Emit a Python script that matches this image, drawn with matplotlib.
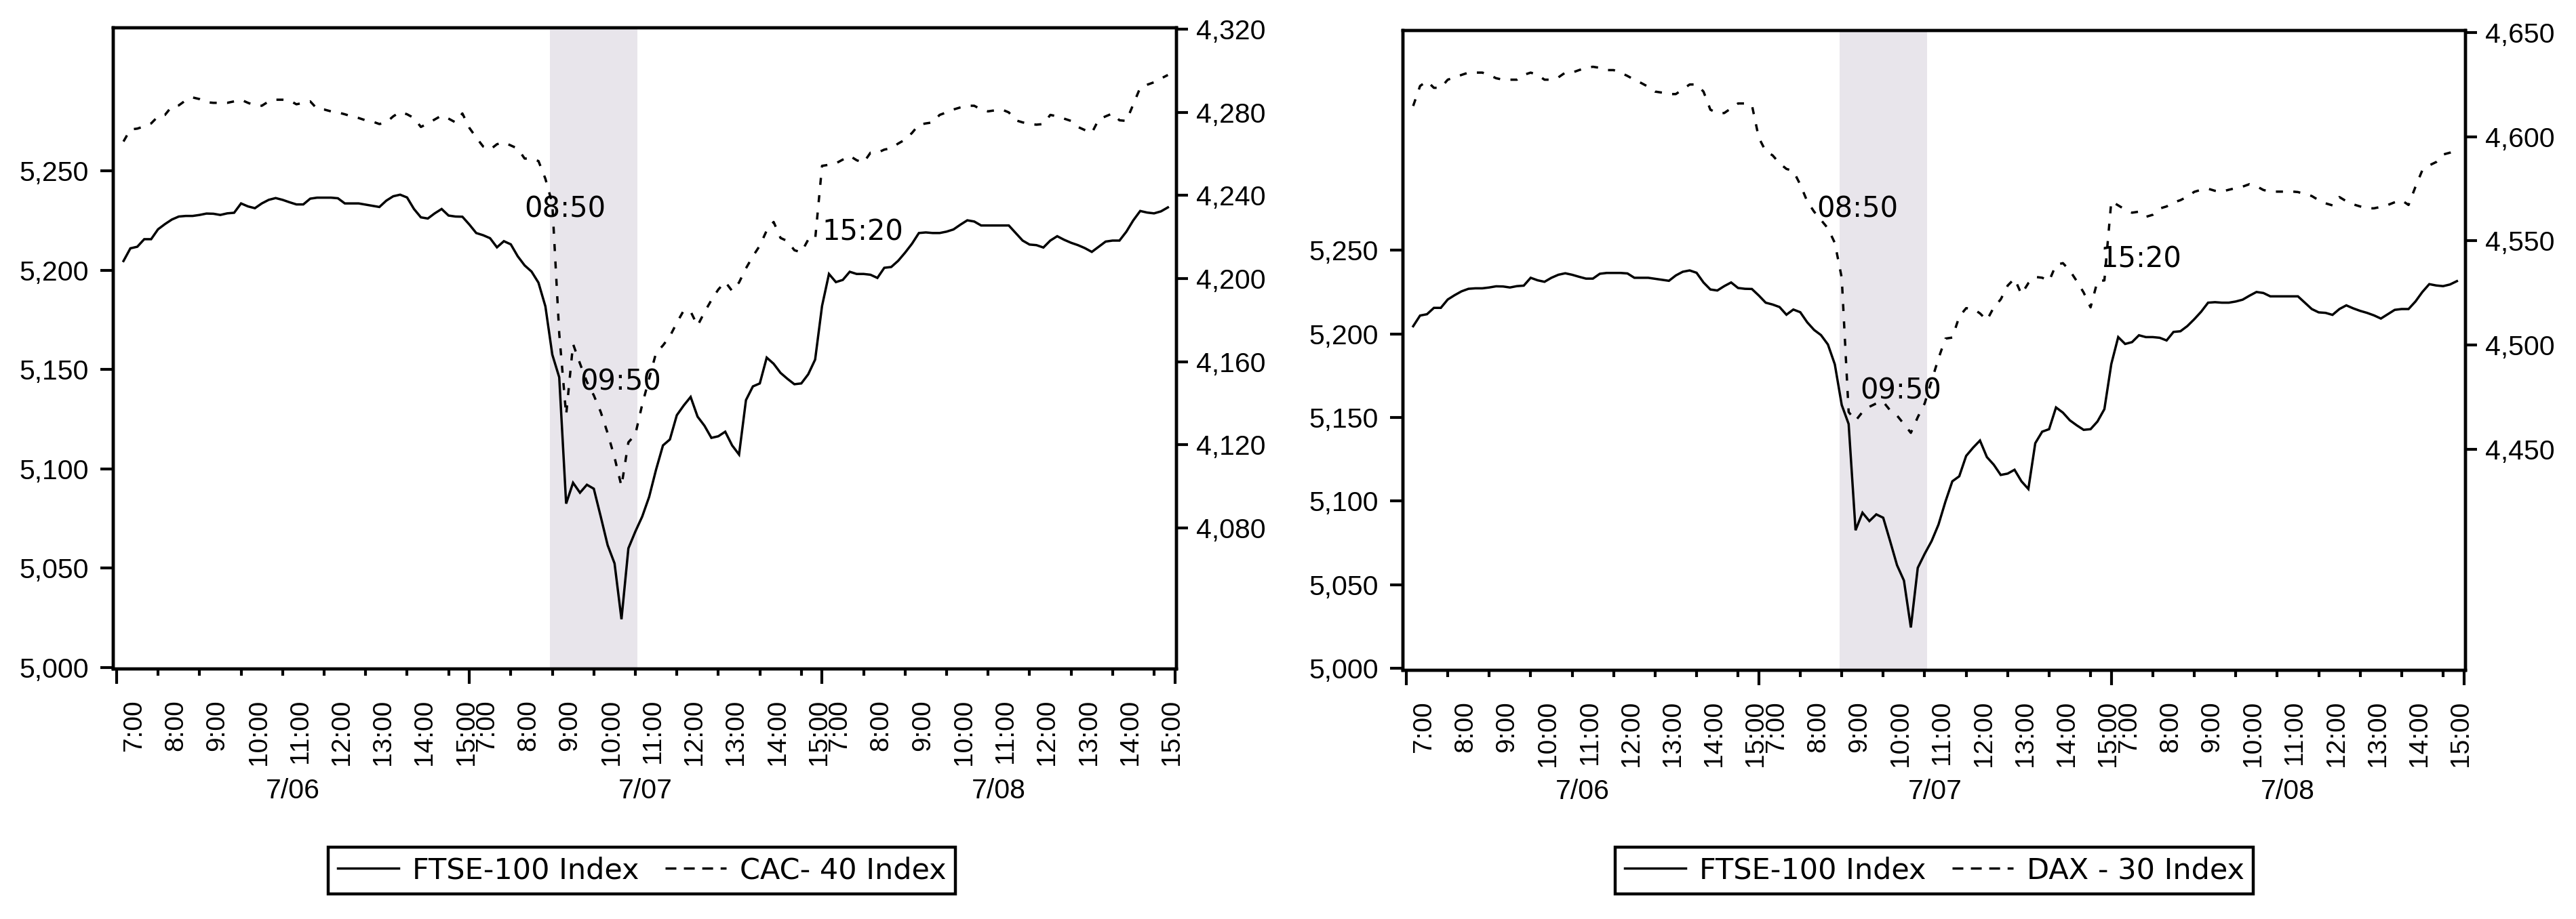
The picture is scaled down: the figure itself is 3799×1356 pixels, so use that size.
import numpy as np
import matplotlib
matplotlib.use("Agg")
import matplotlib.pyplot as plt
from matplotlib import transforms
from matplotlib.lines import Line2D

plt.rcParams['font.family'] = ['Liberation Sans', 'DejaVu Sans']

# ------------------------------------------------------------------ data
DATES = ["7/06", "7/07", "7/08"]
FIRST_OBS = ["7:10", "7:00", "7:00"]          # first 10-minute observation of each day
HOUR_LABELS = ["7:00", "8:00", "9:00", "10:00", "11:00", "12:00", "13:00", "14:00", "15:00"]

FTSE_0706 = [5204.6, 5211.0, 5211.8, 5215.6, 5215.6, 5220.6, 5223.2, 5225.5, 5227.0, 5227.3,
             5227.3, 5227.8, 5228.5, 5228.4, 5227.8, 5228.6, 5228.9, 5233.6, 5232.1, 5231.2,
             5233.6, 5235.4, 5236.3, 5235.4, 5234.2, 5233.1, 5233.1, 5236.0, 5236.5, 5236.5,
             5236.5, 5236.2, 5233.6, 5233.6, 5233.6, 5233.0, 5232.4, 5231.8, 5235.0, 5237.2,
             5238.0, 5236.6, 5230.8, 5226.6, 5226.0, 5228.6, 5230.8, 5227.5, 5227.0, 5226.9]
FTSE_0707 = [5223.0,
             5218.7, 5217.6, 5216.1, 5211.5, 5214.6, 5213.0, 5207.0, 5202.4, 5199.3, 5193.7,
             5181.8, 5157.5, 5146.1, 5082.5, 5093.0, 5088.0, 5092.0, 5090.0, 5076.0, 5061.6,
             5052.4, 5024.3, 5060.0, 5068.4, 5076.0, 5085.9, 5099.6, 5111.8, 5114.8, 5127.0,
             5131.9, 5136.2, 5126.3, 5121.7, 5115.6, 5116.4, 5118.7, 5111.8, 5107.2, 5134.6,
             5141.5, 5143.0, 5156.0, 5152.9, 5148.3, 5145.3, 5142.6, 5143.0, 5147.6, 5155.0]
FTSE_0708 = [5182.0,
             5198.1, 5194.0, 5195.1, 5199.2, 5198.1, 5198.1, 5197.7, 5196.1, 5201.2, 5201.6,
             5204.7, 5208.8, 5213.3, 5218.7, 5219.0, 5218.7, 5218.7, 5219.4, 5220.5, 5222.9,
             5225.1, 5224.5, 5222.5, 5222.5, 5222.5, 5222.5, 5222.5, 5218.7, 5214.9, 5212.9,
             5212.6, 5211.4, 5214.9, 5217.1, 5215.3, 5213.8, 5212.6, 5211.1, 5209.2, 5211.8,
             5214.4, 5214.9, 5214.9, 5219.4, 5225.1, 5229.8, 5229.0, 5228.6, 5229.6, 5231.6]

CAC_0706 = [4265.9, 4271.7, 4272.1, 4273.2, 4274.6, 4278.0, 4278.7, 4282.8, 4283.3, 4285.7,
            4287.1, 4286.3, 4284.8, 4284.5, 4284.5, 4284.5, 4285.2, 4286.0, 4284.5, 4283.3,
            4283.1, 4285.2, 4286.0, 4286.0, 4285.7, 4283.8, 4284.5, 4285.2, 4281.6, 4281.3,
            4280.4, 4279.9, 4279.0, 4278.0, 4277.2, 4276.1, 4275.5, 4274.3, 4275.1, 4278.0,
            4280.1, 4279.0, 4277.2, 4272.9, 4274.6, 4276.5, 4278.4, 4276.9, 4275.1, 4279.4]
CAC_0707 = [4272.5,
            4267.8, 4263.5, 4262.0, 4264.6, 4265.5, 4264.0, 4262.5, 4257.7, 4257.7, 4256.5,
            4248.0, 4236.0, 4173.6, 4134.3, 4168.5, 4159.1, 4150.3, 4143.8, 4135.8, 4125.6,
            4113.9, 4100.1, 4121.2, 4124.9, 4139.4, 4151.8, 4164.2, 4167.8, 4172.2, 4178.7,
            4184.6, 4184.1, 4177.3, 4183.8, 4189.6, 4194.7, 4198.4, 4194.0, 4198.1, 4204.9,
            4210.7, 4215.8, 4223.1, 4227.2, 4219.5, 4218.0, 4213.6, 4212.6, 4218.7, 4218.7]
CAC_0708 = [4254.2,
            4254.7, 4255.4, 4257.2, 4259.0, 4256.9, 4255.7, 4260.5, 4260.5, 4262.0, 4262.7,
            4264.9, 4266.8, 4270.0, 4274.0, 4274.6, 4275.1, 4278.7, 4279.9, 4281.3, 4282.3,
            4283.1, 4283.1, 4281.3, 4280.4, 4280.9, 4281.3, 4279.9, 4276.1, 4275.1, 4274.3,
            4274.0, 4274.3, 4278.7, 4278.0, 4276.9, 4275.8, 4272.9, 4271.4, 4270.0, 4276.5,
            4278.0, 4279.4, 4276.1, 4275.8, 4283.8, 4291.8, 4293.2, 4294.4, 4296.2, 4297.9]

DAX_0706 = [4614.7, 4624.3, 4626.6, 4623.4, 4623.4, 4627.3, 4628.4, 4629.6, 4630.7, 4630.7,
            4630.7, 4629.6, 4628.0, 4627.3, 4627.3, 4627.3, 4629.6, 4630.7, 4629.6, 4627.3,
            4627.3, 4628.4, 4630.7, 4630.7, 4631.9, 4633.0, 4633.5, 4633.0, 4631.9, 4631.9,
            4630.7, 4629.1, 4627.3, 4625.7, 4623.9, 4621.6, 4621.1, 4620.4, 4620.4, 4622.7,
            4625.0, 4625.0, 4621.6, 4612.9, 4611.3, 4611.3, 4613.6, 4615.9, 4615.9, 4615.2]
DAX_0707 = [4599.5,
            4593.0, 4591.0, 4587.2, 4584.5, 4583.5, 4577.0, 4569.0, 4564.0, 4560.0, 4556.0,
            4549.0, 4532.3, 4467.9, 4463.7, 4467.9, 4470.4, 4472.0, 4472.8, 4468.7, 4466.2,
            4462.1, 4457.9, 4465.4, 4472.0, 4482.8, 4493.6, 4503.1, 4503.6, 4513.6, 4517.7,
            4517.4, 4515.2, 4511.9, 4518.1, 4521.9, 4528.5, 4531.9, 4524.4, 4529.7, 4532.7,
            4532.3, 4530.7, 4538.5, 4539.3, 4535.7, 4530.7, 4525.2, 4518.1, 4530.7, 4531.0]
DAX_0708 = [4569.0,
            4567.0, 4565.0, 4563.5, 4564.0, 4561.5, 4562.5, 4565.5, 4566.5, 4568.4, 4569.5,
            4571.2, 4573.5, 4574.5, 4575.0, 4574.0, 4573.6, 4574.5, 4575.3, 4576.0, 4577.2,
            4576.2, 4574.4, 4573.6, 4573.6, 4573.6, 4573.7, 4573.4, 4572.5, 4571.5, 4569.5,
            4568.0, 4567.0, 4571.0, 4569.0, 4567.5, 4566.5, 4565.6, 4565.6, 4566.3, 4567.2,
            4568.5, 4569.5, 4567.2, 4575.9, 4583.9, 4586.2, 4587.8, 4591.4, 4592.3, 4593.7]

FTSE_TICKS = [5000, 5050, 5100, 5150, 5200, 5250]
CAC_TICKS = [4080, 4120, 4160, 4200, 4240, 4280, 4320]
DAX_TICKS = [4450, 4500, 4550, 4600, 4650]

LEGEND_LEFT = ["FTSE-100 Index", "CAC- 40 Index"]
LEGEND_RIGHT = ["FTSE-100 Index", "DAX - 30 Index"]
EVENT_LABELS = ["08:50", "09:50", "15:20"]
EVENT_DAY = 1                      # 7/07
EVENT_SPAN = ("8:57", "11:03")     # shaded window on 7/07

# ------------------------------------------------------------------ helpers
SESSION = 8.5   # axis hours per trading day (7:00 .. 15:30)


def hpos(day, hhmm):
    h, m = hhmm.split(":")
    return day * SESSION + int(h) + int(m) / 60.0 - 7.0


def series(days):
    xs, ys = [], []
    for d, vals in enumerate(days):
        start = hpos(d, FIRST_OBS[d])
        xs.append(start + np.arange(len(vals)) / 6.0)
        ys.append(np.asarray(vals, float))
    return np.concatenate(xs), np.concatenate(ys)


x, ftse = series([FTSE_0706, FTSE_0707, FTSE_0708])
_, cac = series([CAC_0706, CAC_0707, CAC_0708])
_, dax = series([DAX_0706, DAX_0707, DAX_0708])

# ------------------------------------------------------------------ figure
fig = plt.figure(figsize=(37.99, 13.56), dpi=100)
fig.patch.set_facecolor("white")

LW = 2.5
DASH = (0, (3.0, 4.4))
LEG_DASH = (0, (4.6, 3.2))
SPINE_LW = 3.2
TICK_FS = 29.5
XT_FS = 28
ANN_FS = 30
LEG_FS = 31
SHADE = "#E8E5EB"


def panel(rect, other, other_ticks, ylimL, ylimR, labels, ann_pos, leg_center):
    ax = fig.add_axes(rect)
    ax.set_xlim(-0.08, 25.54)
    ax.set_ylim(*ylimL)
    ax.axvspan(hpos(EVENT_DAY, EVENT_SPAN[0]), hpos(EVENT_DAY, EVENT_SPAN[1]),
               color=SHADE, lw=0, zorder=0)
    ax.plot(x, ftse, color="black", lw=LW, zorder=3, solid_joinstyle="miter")
    ax2 = ax.twinx()
    ax2.set_ylim(*ylimR)
    ax2.plot(x, other, color="black", lw=LW, ls=DASH, zorder=3)

    for a in (ax, ax2):
        for s in a.spines.values():
            s.set_linewidth(SPINE_LW)

    ax.set_yticks(FTSE_TICKS)
    ax.set_yticklabels([f"{v:,}" for v in FTSE_TICKS])
    ax.tick_params(axis="y", direction="out", length=14, width=3,
                   labelsize=TICK_FS, pad=12)
    ax2.set_yticks(other_ticks)
    ax2.set_yticklabels([f"{v:,}" for v in other_ticks])
    ax2.tick_params(axis="y", direction="out", length=12, width=3,
                    labelsize=TICK_FS, pad=9)

    major = [d * SESSION for d in range(3)] + [3 * SESSION]
    minor = [d * SESSION + h for d in range(3) for h in range(1, 9)]
    ax.set_xticks(major)
    ax.set_xticks(minor, minor=True)
    ax.tick_params(axis="x", which="major", direction="out", length=16, width=3,
                   labelbottom=False)
    ax.tick_params(axis="x", which="minor", direction="out", length=7, width=3,
                   labelbottom=False)

    blend = transforms.blended_transform_factory(ax.transData, ax.transAxes)
    shifted = blend + transforms.ScaledTranslation(0.26, 0, fig.dpi_scale_trans)
    for d in range(3):
        for h, lab in enumerate(HOUR_LABELS):
            ax.text(d * SESSION + h, -0.0476, lab, transform=shifted,
                    rotation=90, ha="center", va="top", fontsize=XT_FS)
        ax.text(d * SESSION + SESSION / 2, -0.19, DATES[d], transform=blend,
                ha="center", va="center", fontsize=TICK_FS)

    for lab, (hx, vy) in zip(EVENT_LABELS, ann_pos):
        ax.text(hx, vy, lab, ha="left", va="baseline", fontsize=ANN_FS,
                family="DejaVu Sans", zorder=5)

    handles = [Line2D([], [], color="black", lw=LW),
               Line2D([], [], color="black", lw=LW, ls=LEG_DASH)]
    leg = fig.legend(handles, labels, loc="center", bbox_to_anchor=leg_center,
                     bbox_transform=fig.transFigure, ncol=2, frameon=True,
                     fancybox=False, edgecolor="black", framealpha=1,
                     prop={"family": "DejaVu Sans", "size": LEG_FS},
                     handlelength=2.1, handletextpad=0.45, columnspacing=0.9,
                     borderpad=0.32, borderaxespad=0)
    leg.get_frame().set_linewidth(SPINE_LW)
    return ax, ax2


panel([0.04396, 0.27212, 0.41274, 0.69764], cac, CAC_TICKS,
      (4999.3, 5322.0), (4012.2, 4320.6), LEGEND_LEFT,
      [(9.82, 5226.5), (11.16, 5139.8), (17.0, 5214.9)],
      (0.24915, 0.0527))

panel([0.54462, 0.27065, 0.41248, 0.69617], dax, DAX_TICKS,
      (4998.7, 5381.6), (4344.0, 4650.9), LEGEND_RIGHT,
      [(9.90, 5269.7), (10.95, 5161.0), (16.73, 5239.7)],
      (0.7509, 0.0527))

fig.savefig("out.png", dpi=100, facecolor="white")
